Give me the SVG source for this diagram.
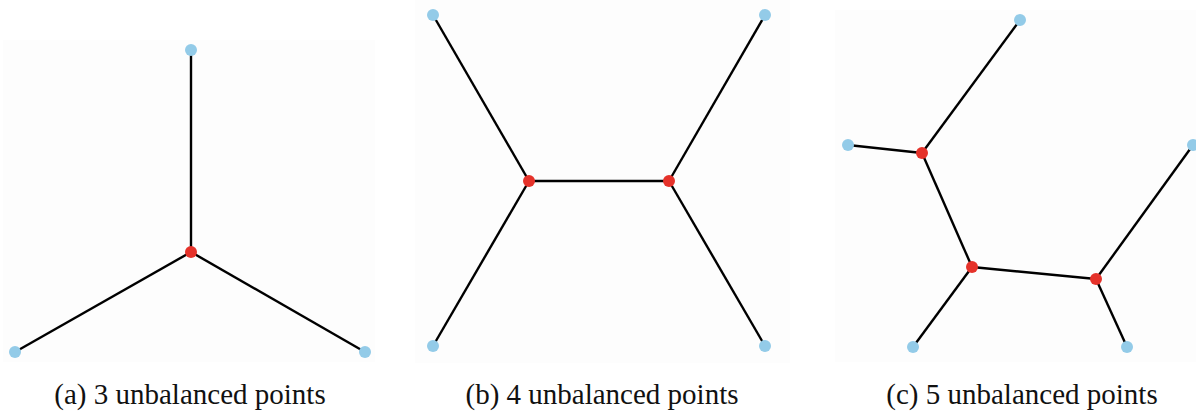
<svg xmlns="http://www.w3.org/2000/svg" width="1196" height="413" viewBox="0 0 1196 413">
<style>
.bg{fill:#fdfdfd}
.e{stroke:#000;stroke-width:2.4;fill:none}
.u{fill:#93cbe8}
.s{fill:#e5322a}
.cap{font-family:'Liberation Serif','Times New Roman',serif;font-size:29px;fill:#111;text-anchor:middle}
</style>
<rect class="bg" x="3" y="40" width="372" height="322"/>
<rect class="bg" x="415" y="0" width="375" height="363"/>
<rect class="bg" x="835" y="10" width="361" height="352"/>
<g id="connectors">
<line class="e" x1="191" y1="50" x2="191" y2="252"/>
<line class="e" x1="191" y1="252" x2="15" y2="352"/>
<line class="e" x1="191" y1="252" x2="365" y2="352"/>
<line class="e" x1="433" y1="15" x2="529" y2="181"/>
<line class="e" x1="433" y1="346" x2="529" y2="181"/>
<line class="e" x1="529" y1="181" x2="669" y2="181"/>
<line class="e" x1="765" y1="15" x2="669" y2="181"/>
<line class="e" x1="765" y1="346" x2="669" y2="181"/>
<line class="e" x1="1020" y1="20" x2="922" y2="153"/>
<line class="e" x1="848" y1="145" x2="922" y2="153"/>
<line class="e" x1="922" y1="153" x2="972" y2="267"/>
<line class="e" x1="972" y1="267" x2="913" y2="347"/>
<line class="e" x1="972" y1="267" x2="1096" y2="279"/>
<line class="e" x1="1096" y1="279" x2="1193" y2="145"/>
<line class="e" x1="1096" y1="279" x2="1127" y2="347"/>
</g>
<g id="a-top"><circle class="u" cx="191" cy="50" r="6"/></g>
<g id="a-left"><circle class="u" cx="15" cy="352" r="6"/></g>
<g id="a-right"><circle class="u" cx="365" cy="352" r="6"/></g>
<g id="a-steiner"><circle class="s" cx="191" cy="252" r="6"/></g>
<g id="b-tl"><circle class="u" cx="433" cy="15" r="6"/></g>
<g id="b-tr"><circle class="u" cx="765" cy="15" r="6"/></g>
<g id="b-bl"><circle class="u" cx="433" cy="346" r="6"/></g>
<g id="b-br"><circle class="u" cx="765" cy="346" r="6"/></g>
<g id="b-s1"><circle class="s" cx="529" cy="181" r="6"/></g>
<g id="b-s2"><circle class="s" cx="669" cy="181" r="6"/></g>
<g id="c-top"><circle class="u" cx="1020" cy="20" r="6"/></g>
<g id="c-left"><circle class="u" cx="848" cy="145" r="6"/></g>
<g id="c-right"><circle class="u" cx="1193" cy="145" r="6"/></g>
<g id="c-bl"><circle class="u" cx="913" cy="347" r="6"/></g>
<g id="c-br"><circle class="u" cx="1127" cy="347" r="6"/></g>
<g id="c-s1"><circle class="s" cx="922" cy="153" r="6"/></g>
<g id="c-s2"><circle class="s" cx="972" cy="267" r="6"/></g>
<g id="c-s3"><circle class="s" cx="1096" cy="279" r="6"/></g>
<text class="cap" x="190" y="404">(a) 3 unbalanced points</text>
<text class="cap" x="602" y="404">(b) 4 unbalanced points</text>
<text class="cap" x="1022" y="404">(c) 5 unbalanced points</text>
</svg>
